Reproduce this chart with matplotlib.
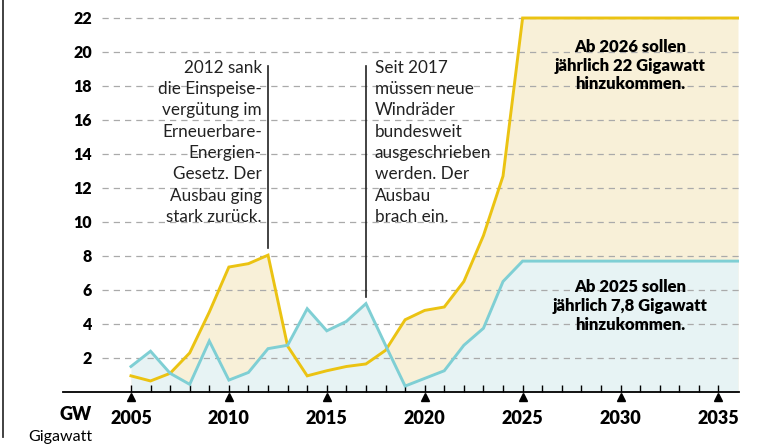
import numpy as np
import matplotlib.pyplot as plt
from matplotlib.lines import Line2D
import matplotlib.transforms as mtransforms

plt.rcParams['font.family'] = ['Lato', 'DejaVu Sans']

# Jährlicher Zubau in GW
jahre = list(range(2005, 2037))
gelb = [0.95, 0.65, 1.1, 2.3, 4.7, 7.35, 7.55, 8.05, 2.7, 0.95, 1.25, 1.5,
        1.65, 2.45, 4.25, 4.8, 5.0, 6.5, 9.2, 12.7] + [22.0] * 12
tuerkis = [1.5, 2.4, 1.1, 0.45, 3.0, 0.7, 1.15, 2.55, 2.75, 4.9, 3.6, 4.15,
           5.2, 2.75, 0.35, 0.8, 1.25, 2.75, 3.75, 6.5] + [7.7] * 12
yticks = [2, 4, 6, 8, 10, 12, 14, 16, 18, 20, 22]
xticks = [2005, 2010, 2015, 2020, 2025, 2030, 2035]

c_gelb = '#ebc312'
c_gelb_fill = '#f8f0d8'
c_tuerkis = '#7fcfd4'
c_tuerkis_fill = '#e7f3f4'

fig = plt.figure(figsize=(7.76, 4.45), dpi=100)
ax = fig.add_axes([63/776, 1-392/445, (738.6-63)/776, (392-9.5)/445])
ax.set_xlim(2001.53, 2036.03)
ax.set_ylim(0, 22.5)

# Gitter
for y in yticks:
    ax.plot([2003.5, 2036.03], [y, y], color='#aaaaaa', lw=0.9,
            dashes=(5, 4), zorder=1)

ax.fill_between(jahre, gelb, 0, color=c_gelb_fill, lw=0, zorder=0.5)
ax.fill_between(jahre, tuerkis, 0, color=c_tuerkis_fill, lw=0, zorder=0.6)
ax.plot(jahre, gelb, color=c_gelb, lw=2.1, zorder=3, solid_joinstyle='miter')
ax.plot(jahre, tuerkis, color=c_tuerkis, lw=2.1, zorder=3, solid_joinstyle='miter')

for s in ['top', 'right', 'left']:
    ax.spines[s].set_visible(False)
ax.spines['bottom'].set_linewidth(1.3)

ax.set_xticks(xticks)
ax.set_xticks(range(2005, 2036), minor=True)
ax.set_xticklabels([str(x) for x in xticks], fontsize=13, fontweight='heavy')
ax.tick_params(axis='x', which='both', direction='in', length=5, width=1, pad=13)
ax.set_yticks(yticks)
ax.set_yticklabels([str(y) for y in yticks], fontsize=11.5, fontweight='heavy')
ax.tick_params(axis='y', length=0, pad=-21)
for lab in ax.get_yticklabels():
    lab.set_horizontalalignment('right')

# Dreiecke unter der Achse
trans = mtransforms.blended_transform_factory(ax.transData, ax.transAxes)
ax.plot(xticks, [-0.013] * len(xticks), linestyle='none', marker='^',
        markersize=6, color='black', transform=trans, clip_on=False)

# Anmerkungen
ax.plot([2012, 2012], [8.45, 19.2], color='#222222', lw=1.2, zorder=4)
ax.plot([2017, 2017], [5.6, 19.2], color='#222222', lw=1.2, zorder=4)
ax.text(2011.68, 19.55, '2012 sank\ndie Einspeise-\nvergütung im\nErneuerbare-\nEnergien-\n'
        'Gesetz. Der\nAusbau ging\nstark zurück.', ha='right', va='top',
        fontsize=12.3, linespacing=1.41, color='#222222', zorder=5)
ax.text(2017.45, 19.55, 'Seit 2017\nmüssen neue\nWindräder\nbundesweit\nausgeschrieben\n'
        'werden. Der\nAusbau\nbrach ein.', ha='left', va='top',
        fontsize=12.3, linespacing=1.41, color='#222222', zorder=5)
ax.text(2030.5, 19.2, 'Ab 2026 sollen\njährlich 22 Gigawatt\nhinzukommen.',
        ha='center', va='center', fontsize=12, fontweight='heavy',
        linespacing=1.22, zorder=5)
ax.text(2030.5, 5.05, 'Ab 2025 sollen\njährlich 7,8 Gigawatt\nhinzukommen.',
        ha='center', va='center', fontsize=12, fontweight='heavy',
        linespacing=1.22, zorder=5)

fig.text(92/776, 1-415/445, 'GW', ha='right', va='center', fontsize=13,
         fontweight='heavy')
fig.text(92/776, 1-437/445, 'Gigawatt', ha='right', va='center', fontsize=11.5)

fig.add_artist(Line2D([3/776, 3/776], [1-437/445, 1], color='#333333', lw=1.3))

fig.savefig('out.png', dpi=100)
